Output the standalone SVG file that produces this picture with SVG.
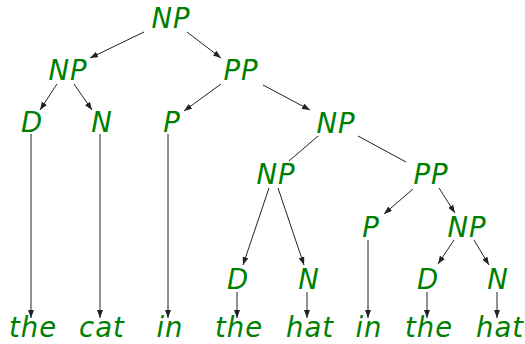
<svg xmlns="http://www.w3.org/2000/svg" width="525" height="344" viewBox="0 0 525 344">
<defs>
<style>
text{font-family:"DejaVu Sans","Liberation Sans",sans-serif;font-style:italic;font-size:27.5px;letter-spacing:1px;fill:#008000;text-anchor:middle}
.e{stroke:#222;stroke-width:1;fill:none}
.a{marker-end:url(#ah)}
</style>
<marker id="ah" markerUnits="userSpaceOnUse" markerWidth="8" markerHeight="6" viewBox="0 0 8 6" refX="8" refY="3" orient="auto">
<path d="M0,0 L8,3 L0,6 z" fill="#222"/>
</marker>
</defs>
<rect width="525" height="344" fill="#fff"/>
<g id="connectors">
<line class="e a" x1="144" y1="32" x2="90" y2="58"/>
<line class="e a" x1="187" y1="32" x2="221" y2="58"/>
<line class="e a" x1="57" y1="84" x2="40" y2="110"/>
<line class="e a" x1="74" y1="84" x2="92" y2="110"/>
<line class="e a" x1="221" y1="84" x2="184" y2="111"/>
<line class="e a" x1="263" y1="85" x2="310" y2="110"/>
<line class="e" x1="318" y1="136" x2="289" y2="161"/>
<line class="e" x1="358" y1="136" x2="406" y2="162"/>
<line class="e a" x1="269" y1="188" x2="243" y2="265"/>
<line class="e a" x1="278" y1="188" x2="304" y2="265"/>
<line class="e a" x1="413" y1="189" x2="384" y2="214"/>
<line class="e a" x1="439" y1="188" x2="455" y2="213"/>
<line class="e a" x1="454" y1="240" x2="438" y2="264"/>
<line class="e a" x1="474" y1="240" x2="489" y2="265"/>
<line class="e a" x1="31" y1="134" x2="31" y2="318"/>
<line class="e a" x1="100" y1="134" x2="100" y2="318"/>
<line class="e a" x1="168" y1="134" x2="168" y2="318"/>
<line class="e a" x1="368" y1="240" x2="368" y2="318"/>
<line class="e a" x1="237" y1="292" x2="237" y2="318"/>
<line class="e a" x1="307" y1="292" x2="307" y2="318"/>
<line class="e a" x1="427" y1="292" x2="427" y2="318"/>
<line class="e a" x1="497" y1="292" x2="497" y2="318"/>
</g>
<g id="n_np0"><text x="171" y="28">NP</text></g>
<g id="n_np1"><text x="68" y="80">NP</text></g>
<g id="n_pp1"><text x="241" y="80">PP</text></g>
<g id="n_d1"><text x="32" y="132">D</text></g>
<g id="n_n1"><text x="102" y="132">N</text></g>
<g id="n_p1"><text x="172" y="132">P</text></g>
<g id="n_np2"><text x="336" y="133">NP</text></g>
<g id="n_np3"><text x="276" y="184">NP</text></g>
<g id="n_pp2"><text x="431" y="184">PP</text></g>
<g id="n_p2"><text x="371" y="237">P</text></g>
<g id="n_np4"><text x="467" y="237">NP</text></g>
<g id="n_d2"><text x="238" y="289">D</text></g>
<g id="n_n2"><text x="309" y="289">N</text></g>
<g id="n_d3"><text x="428" y="289">D</text></g>
<g id="n_n3"><text x="498" y="289">N</text></g>
<g id="w1"><text x="33" y="337">the</text></g>
<g id="w2"><text x="102" y="337">cat</text></g>
<g id="w3"><text x="170" y="337">in</text></g>
<g id="w4"><text x="239" y="337">the</text></g>
<g id="w5"><text x="310" y="337">hat</text></g>
<g id="w6"><text x="369" y="337">in</text></g>
<g id="w7"><text x="429" y="337">the</text></g>
<g id="w8"><text x="500" y="337">hat</text></g>
</svg>
